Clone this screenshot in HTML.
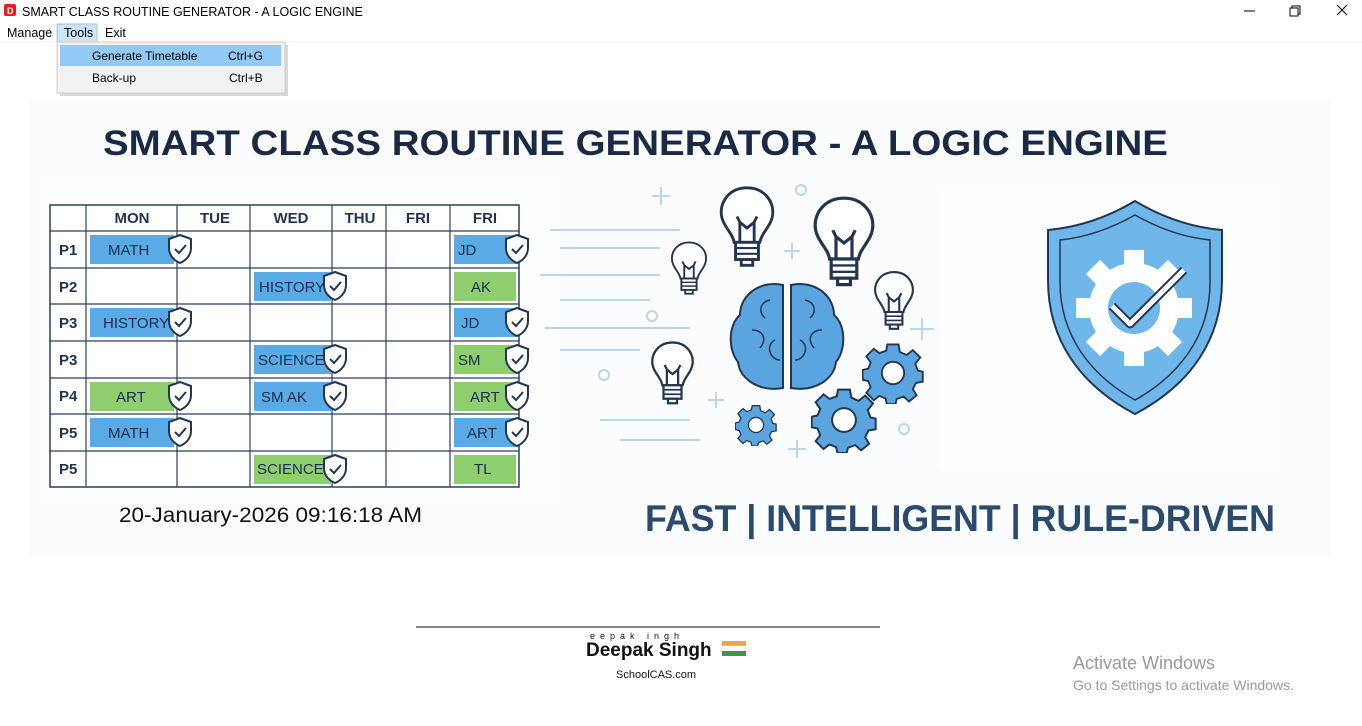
<!DOCTYPE html>
<html><head><meta charset="utf-8"><style>
html,body{margin:0;padding:0;width:1362px;height:726px;overflow:hidden;background:#fff;font-family:"Liberation Sans",sans-serif;}
</style></head><body>
<svg width="1362" height="726" viewBox="0 0 1362 726" xmlns="http://www.w3.org/2000/svg" font-family="Liberation Sans, sans-serif">
<defs>
<symbol id="sh" viewBox="0 0 26 30"><path d="M13 1 L24 5 L24 14 C24 22 18 27 13 29 C8 27 2 22 2 14 L2 5 Z" fill="#fff" stroke="#24364f" stroke-width="2"/><path d="M8 15 L12 19 L19 11" fill="none" stroke="#24364f" stroke-width="2"/></symbol>
<symbol id="gear" viewBox="-50 -50 100 100"><g fill="#5aa5e0" stroke="#24364f" stroke-width="3"><path d="M-9 -46 L9 -46 L11 -34 L22 -29 L32 -37 L44 -25 L36 -15 L40 -4 L48 -2 L48 14 L37 16 L32 26 L38 36 L26 46 L17 38 L6 42 L4 50 L-10 50 L-12 41 L-22 37 L-31 44 L-43 32 L-36 23 L-40 13 L-49 11 L-49 -5 L-40 -7 L-36 -17 L-43 -27 L-31 -39 L-22 -32 L-11 -36 Z"/></g><circle r="18" fill="#fff" stroke="#24364f" stroke-width="3"/></symbol>
<symbol id="bulb" viewBox="0 0 40 60"><path d="M20 2 C8 2 2 11 2 19 C2 28 10 33 11 40 L29 40 C30 33 38 28 38 19 C38 11 32 2 20 2 Z" fill="#fff" stroke="#24364f" stroke-width="2"/><path d="M15 40 L15 26 L13 22 M25 40 L25 26 L27 22 M15 26 L20 30 L25 26" fill="none" stroke="#24364f" stroke-width="2"/><rect x="12" y="40" width="16" height="12" fill="#fff" stroke="#24364f" stroke-width="2"/><path d="M12 44 H28 M12 48 H28" stroke="#24364f" stroke-width="1.5"/><path d="M16 52 H24 V56 H16 Z" fill="#fff" stroke="#24364f" stroke-width="2"/></symbol>
</defs>
<text x="22" y="16" font-size="12.5" fill="#000">SMART CLASS ROUTINE GENERATOR -  A LOGIC ENGINE</text>
<rect x="4" y="4" width="12" height="12" fill="#d22" rx="2"/><text x="7" y="14" font-size="9" fill="#fff" font-weight="bold">D</text>
<line x1="1244" y1="11" x2="1255" y2="11" stroke="#000"/>
<rect x="1290" y="8" width="8" height="8" fill="none" stroke="#000"/><path d="M1292 8 V6 H1300 V14 H1298" fill="none" stroke="#000"/>
<path d="M1337 5 L1347 15 M1347 5 L1337 15" stroke="#000"/>
<text x="7" y="37" font-size="12.5" fill="#000">Manage</text>
<rect x="57" y="24" width="40" height="18" fill="#cce4f7" stroke="#99c9ef"/>
<text x="64" y="37" font-size="12.5" fill="#000">Tools</text>
<text x="105" y="37" font-size="12.5" fill="#000">Exit</text>
<line x1="0" y1="42" x2="1362" y2="42" stroke="#f0f0f0"/>
<rect x="30" y="100" width="1300" height="455" fill="#fafcfe"/>
<rect x="40" y="180" width="520" height="320" fill="#fdfeff"/>
<rect x="940" y="190" width="340" height="280" fill="#fdfeff"/>
<rect x="60" y="45" width="228" height="51" fill="#d8d8d8"/>
<rect x="57" y="42" width="228" height="51" fill="#f2f2f2" stroke="#ccc"/>
<rect x="60" y="45" width="221" height="21" fill="#91c9f7"/>
<text x="92" y="60" font-size="12" fill="#000">Generate Timetable</text><text x="228" y="60" font-size="12" fill="#000">Ctrl+G</text>
<text x="92" y="82" font-size="12" fill="#000">Back-up</text><text x="229" y="82" font-size="12" fill="#000">Ctrl+B</text>
<text x="103" y="155" font-size="35" font-weight="bold" fill="#1b2a44" textLength="1065" lengthAdjust="spacingAndGlyphs">SMART CLASS ROUTINE GENERATOR - A LOGIC ENGINE</text>
<rect x="50" y="205" width="469" height="282" fill="#fff" stroke="#2b3f5c" stroke-width="1.5"/>
<g stroke="#2b3f5c" stroke-width="1.2">
<line x1="86" y1="205" x2="86" y2="487"/><line x1="177" y1="205" x2="177" y2="487"/><line x1="250" y1="205" x2="250" y2="487"/><line x1="332" y1="205" x2="332" y2="487"/><line x1="386" y1="205" x2="386" y2="487"/><line x1="450" y1="205" x2="450" y2="487"/>
<line x1="50" y1="231" x2="519" y2="231"/><line x1="50" y1="268" x2="519" y2="268"/><line x1="50" y1="304" x2="519" y2="304"/><line x1="50" y1="341" x2="519" y2="341"/><line x1="50" y1="378" x2="519" y2="378"/><line x1="50" y1="414" x2="519" y2="414"/><line x1="50" y1="451" x2="519" y2="451"/>
</g>
<g font-size="15" font-weight="bold" fill="#1f3350" text-anchor="middle">
<text x="132" y="223">MON</text><text x="215" y="223">TUE</text><text x="291" y="223">WED</text><text x="360" y="223">THU</text><text x="418" y="223">FRI</text><text x="485" y="223">FRI</text>
</g>
<g font-size="15" font-weight="bold" fill="#1f3350">
<text x="59" y="255">P1</text><text x="59" y="292">P2</text><text x="59" y="328">P3</text><text x="59" y="365">P3</text><text x="59" y="401">P4</text><text x="59" y="438">P5</text><text x="59" y="474">P5</text>
</g>
<g>
<rect x="90" y="235" width="84" height="29" fill="#5aaae6"/>
<rect x="90" y="308" width="84" height="29" fill="#5aaae6"/>
<rect x="90" y="382" width="84" height="29" fill="#8fce6e"/>
<rect x="90" y="418" width="84" height="29" fill="#5aaae6"/>
<rect x="254" y="272" width="78" height="29" fill="#5aaae6"/>
<rect x="254" y="345" width="78" height="29" fill="#5aaae6"/>
<rect x="254" y="382" width="78" height="29" fill="#5aaae6"/>
<rect x="254" y="455" width="78" height="29" fill="#8fce6e"/>
<rect x="454" y="235" width="62" height="29" fill="#5aaae6"/>
<rect x="454" y="272" width="62" height="29" fill="#8fce6e"/>
<rect x="454" y="308" width="62" height="29" fill="#5aaae6"/>
<rect x="454" y="345" width="62" height="29" fill="#8fce6e"/>
<rect x="454" y="382" width="62" height="29" fill="#8fce6e"/>
<rect x="454" y="418" width="62" height="29" fill="#5aaae6"/>
<rect x="454" y="455" width="62" height="29" fill="#8fce6e"/>
</g>
<g font-size="15" fill="#1a2d4a">
<text x="108" y="255">MATH</text><text x="103" y="328">HISTORY</text><text x="116" y="402">ART</text><text x="108" y="438">MATH</text>
<text x="259" y="292">HISTORY</text><text x="258" y="365">SCIENCE</text><text x="261" y="402">SM AK</text><text x="257" y="474">SCIENCE</text>
<text x="458" y="255">JD</text><text x="471" y="292">AK</text><text x="461" y="328">JD</text><text x="458" y="365">SM</text><text x="470" y="402">ART</text><text x="467" y="438">ART</text><text x="474" y="474">TL</text>
</g>
<use href="#sh" x="167" y="234" width="26" height="30"/>
<use href="#sh" x="167" y="307" width="26" height="30"/>
<use href="#sh" x="167" y="381" width="26" height="30"/>
<use href="#sh" x="167" y="417" width="26" height="30"/>
<use href="#sh" x="322" y="271" width="26" height="30"/>
<use href="#sh" x="322" y="344" width="26" height="30"/>
<use href="#sh" x="322" y="381" width="26" height="30"/>
<use href="#sh" x="322" y="454" width="26" height="30"/>
<use href="#sh" x="504" y="234" width="26" height="30"/>
<use href="#sh" x="504" y="307" width="26" height="30"/>
<use href="#sh" x="504" y="344" width="26" height="30"/>
<use href="#sh" x="504" y="381" width="26" height="30"/>
<use href="#sh" x="504" y="417" width="26" height="30"/>
<text x="119" y="522" font-size="21" fill="#111" textLength="303" lengthAdjust="spacingAndGlyphs">20-January-2026 09:16:18 AM</text>
<g stroke="#b9d6ec" stroke-width="2" fill="none">
<line x1="550" y1="230" x2="680" y2="230"/><line x1="560" y1="248" x2="660" y2="248"/><line x1="540" y1="275" x2="660" y2="275"/><line x1="560" y1="300" x2="650" y2="300"/><line x1="545" y1="328" x2="690" y2="328"/><line x1="560" y1="350" x2="640" y2="350"/><line x1="600" y1="420" x2="690" y2="420"/><line x1="620" y1="440" x2="700" y2="440"/>
<circle cx="801" cy="190" r="5"/><circle cx="652" cy="316" r="5"/><circle cx="604" cy="375" r="5"/><circle cx="904" cy="429" r="5"/>
<path d="M652 196 H670 M661 187 V205 M784 251 H800 M792 243 V259 M910 329 H934 M922 318 V340 M708 400 H724 M716 392 V408 M788 449 H806 M797 440 V458"/>
</g>
<use href="#bulb" x="718" y="185" width="58" height="86"/>
<use href="#bulb" x="812" y="195" width="64" height="96"/>
<use href="#bulb" x="670" y="240" width="38" height="58"/>
<use href="#bulb" x="873" y="270" width="42" height="63"/>
<use href="#bulb" x="650" y="340" width="45" height="68"/>
<g fill="#5aa5e0" stroke="#24364f" stroke-width="2">
<path d="M783 285 C760 280 740 295 740 315 C728 325 728 350 738 362 C740 380 760 392 783 388 Z"/>
<path d="M791 285 C814 280 834 295 834 315 C846 325 846 350 836 362 C834 380 814 392 791 388 Z"/>
</g>
<g fill="none" stroke="#24364f" stroke-width="1.5">
<path d="M770 300 C760 302 758 312 765 318 M752 330 C762 330 768 338 760 348 M775 340 C765 345 770 360 780 360 M805 300 C815 302 817 312 810 318 M822 330 C812 330 806 338 814 348 M800 340 C810 345 805 360 795 360"/>
</g>
<use href="#gear" x="862" y="342" width="62" height="62"/>
<use href="#gear" x="811" y="387" width="66" height="66"/>
<use href="#gear" x="735" y="404" width="42" height="42"/>
<path d="M1135 201 C1100 222 1070 228 1048 230 L1048 280 C1048 340 1080 385 1135 414 C1190 385 1222 340 1222 280 L1222 230 C1200 228 1170 222 1135 201 Z" fill="#6fb6ea" stroke="#24364f" stroke-width="2"/>
<path d="M1135 215 C1105 232 1080 238 1060 240 L1060 282 C1060 335 1090 375 1135 400 C1180 375 1210 335 1210 282 L1210 240 C1190 238 1165 232 1135 215 Z" fill="none" stroke="#24364f" stroke-width="1.5"/>
<g transform="translate(1134 308)">
<g fill="#fff"><circle r="45"/>
<rect x="-10" y="-58" width="20" height="20"/><rect x="-10" y="38" width="20" height="20"/><rect x="-58" y="-10" width="20" height="20"/><rect x="38" y="-10" width="20" height="20"/>
<rect x="-10" y="-58" width="20" height="20" transform="rotate(45)"/><rect x="-10" y="38" width="20" height="20" transform="rotate(45)"/><rect x="-58" y="-10" width="20" height="20" transform="rotate(45)"/><rect x="38" y="-10" width="20" height="20" transform="rotate(45)"/></g>
<circle r="26" fill="#6fb6ea"/>
<path d="M-22 -2 L-4 16 L50 -38" fill="none" stroke="#24364f" stroke-width="9" stroke-linejoin="round"/>
<path d="M-22 -2 L-4 16 L50 -38" fill="none" stroke="#fff" stroke-width="5" stroke-linejoin="round"/>
</g>
<text x="645" y="531" font-size="37" font-weight="bold" fill="#2a4a6e" textLength="630" lengthAdjust="spacingAndGlyphs">FAST | INTELLIGENT | RULE-DRIVEN</text>
<line x1="416" y1="627" x2="880" y2="627" stroke="#111" stroke-width="1"/>
<text x="590" y="639" font-size="9" fill="#111" letter-spacing="5">eepak  ingh</text>
<text x="586" y="656" font-size="19" font-weight="bold" fill="#111">Deepak Singh</text>
<rect x="722" y="641" width="24" height="5" fill="#f5a04a"/><rect x="722" y="646" width="24" height="5" fill="#fff" stroke="#eee" stroke-width="0.5"/><rect x="722" y="651" width="24" height="5" fill="#3c9a3c"/>
<text x="616" y="678" font-size="11" fill="#111">SchoolCAS.com</text>
<text x="1073" y="669" font-size="18" fill="#999">Activate Windows</text>
<text x="1073" y="690" font-size="14" fill="#999">Go to Settings to activate Windows.</text>
</svg>
</body></html>
